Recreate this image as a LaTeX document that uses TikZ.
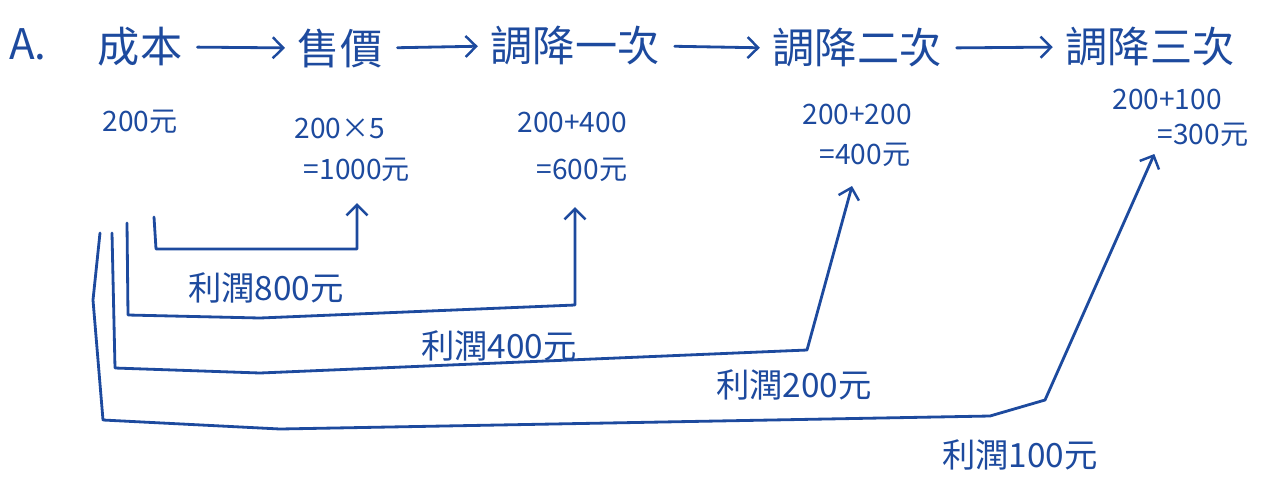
\documentclass[tikz,border=0pt]{standalone}
\usepackage{fontspec}
\setmainfont{Noto Sans CJK TC}
\usetikzlibrary{arrows.meta}
\definecolor{ink}{HTML}{1D4A9E}
\tikzset{
  big/.style={inner sep=0pt, text=ink, font=\fontsize{24}{27}\selectfont},
  small/.style={inner sep=0pt, text=ink, font=\fontsize{16}{18}\selectfont},
  lab/.style={inner sep=0pt, text=ink, font=\fontsize{19}{22}\selectfont},
  conn/.style={draw=ink, line width=1.6pt, line join=round, line cap=round},
  tip/.style={-{Straight Barb[length=6pt,width=12pt,line width=1.4pt]}},
}
\begin{document}
\begin{tikzpicture}[x=0.02cm,y=-0.02cm]
\useasboundingbox (0,0) rectangle (1263,484);
% header row
\node[big] (a) at (28,44) {A.};
\node[big] (n1) at (140,47) {成本};
\node[big] (n2) at (340,48) {售價};
\node[big] (n3) at (575,46) {調降一次};
\node[big] (n4) at (857,48) {調降二次};
\node[big] (n5) at (1150,47) {調降三次};
\foreach \p/\q in {n1/n2,n2/n3,n3/n4,n4/n5}
  \draw[conn,tip,shorten <=0.3cm,shorten >=0.25cm] (\p.east) -- (\q.west);
% values
\node[small] (v200) at (140,122) {200元};
\node[small] (v2a) at (340,128) {200×5};
\node[small] (v1000) at (357,170) {=1000元};
\node[small] (v3a) at (572,122) {200+400};
\node[small] (v600) at (582,170) {=600元};
\node[small] (v4a) at (857,114) {200+200};
\node[small] (v400) at (865,155) {=400元};
\node[small] (v5a) at (1167,99) {200+100};
\node[small] (v300) at (1203,135) {=300元};
% profit connectors
\coordinate (s1) at (154,217);
\coordinate (c1) at (156,249);
\draw[conn,tip,shorten >=0.42cm] (s1) -- (c1) -- (c1 -| v1000.south) -- (v1000.south);
\coordinate (s2) at (127,223);
\coordinate (c2) at (128,315);
\coordinate (m2) at (260,318);
\coordinate (k2) at (575,305);
\draw[conn,tip,shorten >=0.5cm] (s2) -- (c2) -- (m2) -- (k2) -- (k2 |- v600.south);
\coordinate (s3) at (112,233);
\coordinate (c3) at (115,368);
\coordinate (m3) at (260,373);
\coordinate (k3) at (807,350);
\coordinate (t3) at (852,186);
\draw[conn,tip] (s3) -- (c3) -- (m3) -- (k3) -- (t3);
\coordinate (s4) at (100,233);
\coordinate (b4) at (93,300);
\coordinate (c4) at (103,420);
\coordinate (m4) at (280,429);
\coordinate (r4) at (990,416);
\coordinate (k4) at (1045,400);
\draw[conn,tip,shorten >=0.15cm] (s4) -- (b4) -- (c4) -- (m4) -- (r4) -- (k4) -- (v300.south west);
% profit labels
\node[lab] (p1) at (266,288) {利潤800元};
\node[lab] (p2) at (499,346) {利潤400元};
\node[lab] (p3) at (794,385) {利潤200元};
\node[lab] (p4) at (1020,455) {利潤100元};
\end{tikzpicture}
\end{document}
